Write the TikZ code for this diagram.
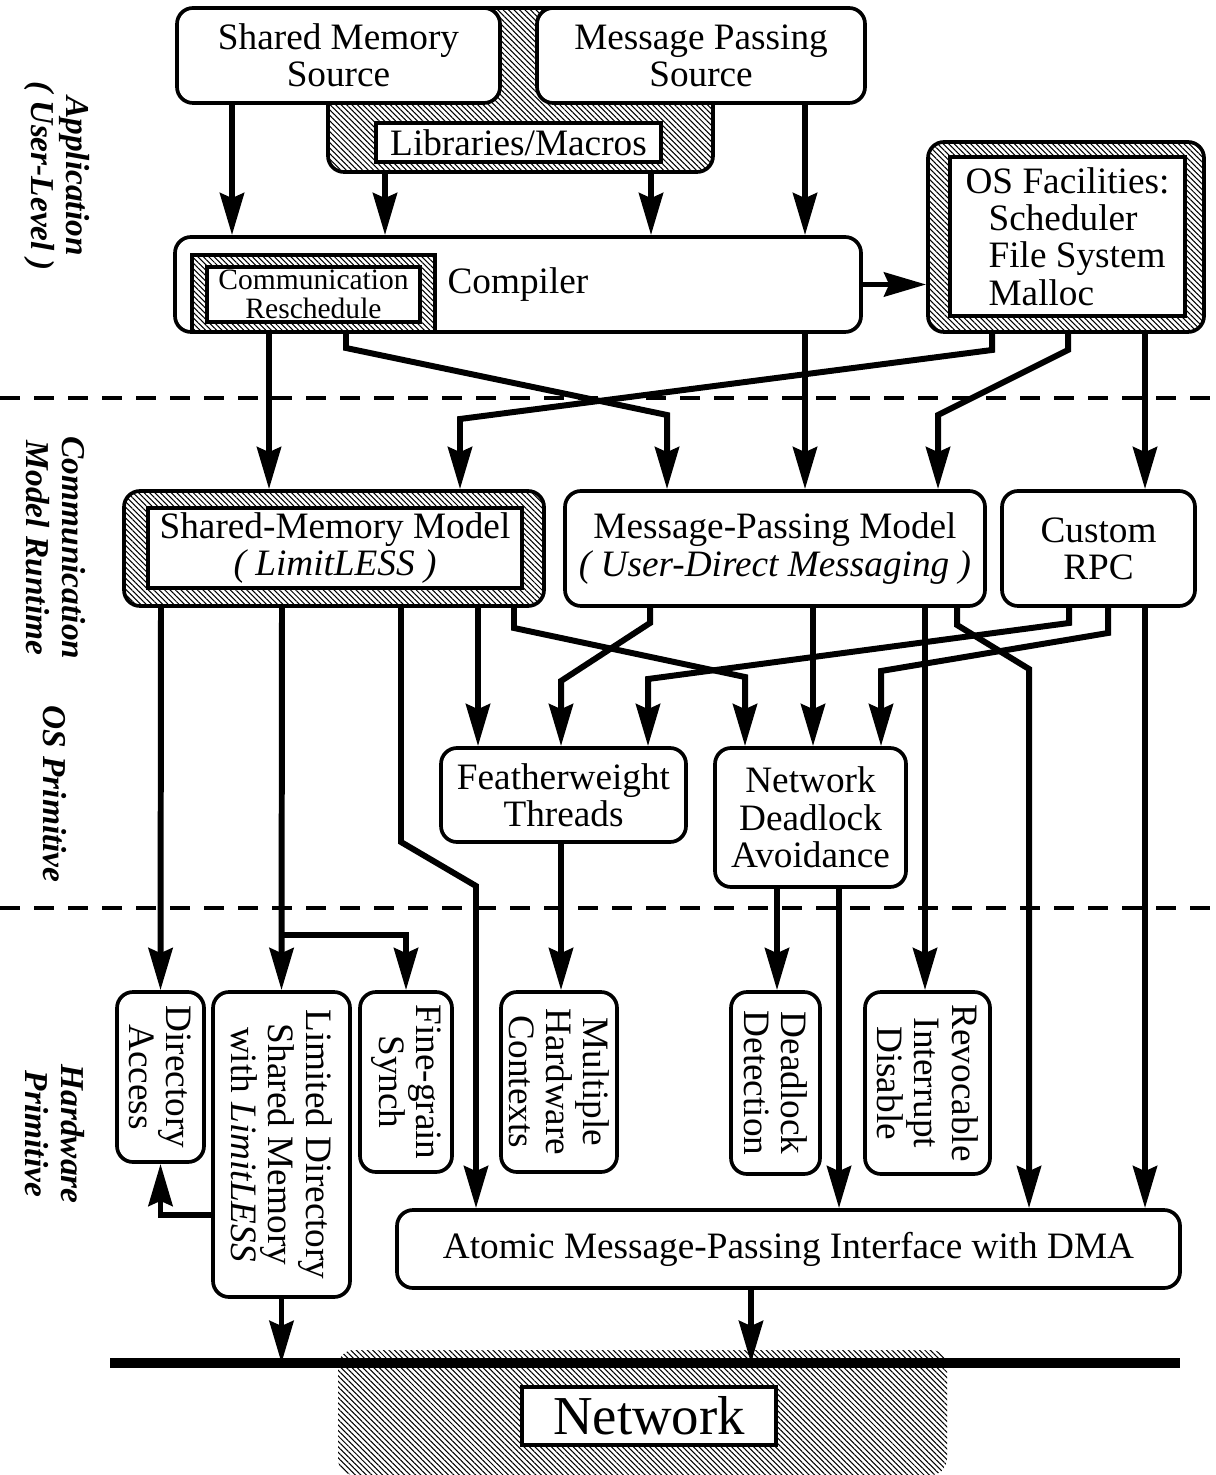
\documentclass[tikz,border=0pt]{standalone}
\usepackage{fontspec}
\setmainfont{Liberation Serif}
\usepackage{tikz}
\usetikzlibrary{arrows.meta,patterns.meta}
\tikzset{
  box/.style={draw, line width=1.05pt, fill=white, rounded corners=1.6mm, inner sep=0pt, align=center, font=\fontsize{10.6}{10.6}\selectfont},
  vbox/.style={box, rotate=-90},
  inbox/.style={box, sharp corners},
  hatch/.style={draw, line width=1.05pt, rounded corners=1.6mm, inner sep=0pt, pattern={Lines[angle=-45,distance=1.1pt,line width=0.3pt]}},
  arr/.style={line width=1.7pt, -{Stealth[length=4.2mm,width=2.4mm,inset=0.5mm]}},
  layer/.style={line width=1pt, dash pattern=on 2mm off 1.4mm},
  lvl/.style={rotate=-90, align=center, font=\fontsize{9.5}{10.2}\selectfont\bfseries\itshape}
}

\begin{document}
\begin{tikzpicture}[x=0.1mm,y=-0.1mm]
  \useasboundingbox (0,0) rectangle (1215,1475);
  \draw[layer] (0,398) -- (1215,398);
  \draw[layer] (0,908) -- (1215,908);

  \node[lvl] (app) at (57,176) {Application\\( User-Level )};
  \node[lvl] (cmr) at (56,548) {Communication\\Model Runtime};
  \node[lvl] (osp) at (55,794) {OS Primitive};
  \node[lvl] (hwp) at (55,1134) {Hardware\\Primitive};

  \node[hatch, minimum width=38.5mm, minimum height=16.4mm] (libs) at (520.5,90) {};
  \node[box, minimum width=32.3mm, minimum height=9.5mm] (sms) at (338.5,55.5) {Shared Memory\\Source};
  \node[box, minimum width=32.8mm, minimum height=9.5mm] (mps) at (701,55.5) {Message Passing\\Source};
  \node[inbox, minimum width=28.5mm, minimum height=3.9mm] (lib) at (518.5,142.5) {Libraries/Macros};
  \node[box, minimum width=68.6mm, minimum height=9.5mm] (cmp) at (518,284.5) {Compiler};
  \node[hatch, sharp corners, minimum width=24.3mm, minimum height=7.7mm] (crs) at (313.5,293.5) {};
  \node[inbox, minimum width=21.3mm, minimum height=5.5mm, font=\fontsize{8.4}{8.2}\selectfont] (crsin) at (313.5,294.5) {Communication\\Reschedule};
  \node[hatch, minimum width=27.6mm, minimum height=19mm] (osf) at (1066,237) {};
  \node[inbox, minimum width=23.5mm, minimum height=15.9mm, align=left] (osfin) at (1067.5,236.5) {OS Facilities:\\\hspace*{2.3mm}Scheduler\\\hspace*{2.3mm}File System\\\hspace*{2.3mm}Malloc};

  \node[hatch, minimum width=42mm, minimum height=11.5mm] (smm) at (334,548.5) {};
  \node[inbox, minimum width=37.4mm, minimum height=8mm] (smmin) at (335,548) {Shared-Memory Model\\\textit{( LimitLESS )}};
  \node[box, minimum width=42mm, minimum height=11.5mm] (mpm) at (775,548.5) {Message-Passing Model\\\textit{( User-Direct Messaging )}};
  \node[box, minimum width=19.3mm, minimum height=11.5mm] (rpc) at (1098.5,548.5) {Custom\\RPC};
  \node[box, minimum width=24.5mm, minimum height=9.4mm] (ft) at (563.5,795) {Featherweight\\Threads};
  \node[box, minimum width=19.1mm, minimum height=13.9mm] (nda) at (810.5,817.5) {Network\\Deadlock\\Avoidance};

  \node[vbox, minimum width=17mm, minimum height=8.7mm] (dir) at (160.5,1077) {Directory\\Access};
  \node[vbox, minimum width=30.5mm, minimum height=13.7mm] (ldsm) at (281.5,1144.5) {Limited Directory\\Shared Memory\\with \textit{LimitLESS}};
  \node[vbox, minimum width=18mm, minimum height=9.2mm] (fgs) at (406,1082) {Fine-grain\\Synch};
  \node[vbox, minimum width=18mm, minimum height=11.6mm] (mhc) at (559,1082) {Multiple\\Hardware\\Contexts};
  \node[vbox, minimum width=18.2mm, minimum height=8.9mm] (ddt) at (775.5,1083) {Deadlock\\Detection};
  \node[vbox, minimum width=18.2mm, minimum height=12.5mm] (rid) at (927.5,1083) {Revocable\\Interrupt\\Disable};
  \node[box, minimum width=78.3mm, minimum height=7.8mm] (ampi) at (788.5,1249) {Atomic Message-Passing Interface with DMA};

  \node[hatch, draw=none, minimum width=60.9mm, minimum height=12.5mm] (netbg) at (642.5,1412.5) {};
  \node[inbox, minimum width=25.4mm, minimum height=5.8mm, font=\fontsize{15.6}{15.6}\selectfont] (net) at (649,1416) {Network};
  \coordinate (nl) at (110,1363);
  \coordinate (nr) at (1180,1363);
  \draw[line width=2.8pt] (nl) -- (nr);

  \draw[arr] (sms.south -| 232,0) -- (cmp.north -| 232,0);
  \draw[arr] (libs.south -| 385,0) -- (cmp.north -| 385,0);
  \draw[arr] (libs.south -| 651,0) -- (cmp.north -| 651,0);
  \draw[arr] (mps.south -| 805,0) -- (cmp.north -| 805,0);
  \draw[arr] (cmp.east) -- (osf.west |- cmp.east);
  \draw[arr] (cmp.south -| 269,0) -- (smm.north -| 269,0);
  \draw[arr] (cmp.south -| 346,0) -- (346,348) -- (667,415) -- (mpm.north -| 667,0);
  \draw[arr] (osf.south -| 992,0) -- (992,350) -- (460,419) -- (smm.north -| 460,0);
  \draw[arr] (cmp.south -| 805,0) -- (mpm.north -| 805,0);
  \draw[arr] (osf.south -| 1068,0) -- (1068,350) -- (938,415) -- (mpm.north -| 938,0);
  \draw[arr] (osf.south -| 1145,0) -- (rpc.north -| 1145,0);

  \draw[arr] (smm.south -| 161,0) -- (dir.west);
  \draw[arr] (smm.south -| 282,0) -- (ldsm.west);
  \coordinate (brk) at (282,935);
  \draw[arr] (brk) -| (fgs.west);
  \draw[arr] (smm.south -| 401,0) -- (401,842) -- (476,886) -- (ampi.north -| 476,0);
  \draw[arr] (smm.south -| 478,0) -- (ft.north -| 478,0);
  \draw[arr] (smm.south -| 514,0) -- (514,628) -- (745,677) -- (nda.north -| 745,0);
  \draw[arr] (mpm.south -| 650,0) -- (650,623) -- (561,681) -- (ft.north -| 561,0);
  \draw[arr] (mpm.south -| 813,0) -- (nda.north -| 813,0);
  \draw[arr] (mpm.south -| 925,0) -- (rid.west -| 925,0);
  \draw[arr] (mpm.south -| 957,0) -- (957,625) -- (1029,669) -- (ampi.north -| 1029,0);
  \draw[arr] (rpc.south -| 1069,0) -- (1069,623) -- (648,679) -- (ft.north -| 648,0);
  \draw[arr] (rpc.south -| 1108,0) -- (1108,633) -- (881,671) -- (nda.north -| 881,0);
  \draw[arr] (rpc.south -| 1145,0) -- (ampi.north -| 1145,0);
  \draw[arr] (ft.south -| 561,0) -- (mhc.west -| 561,0);
  \draw[arr] (nda.south -| 777,0) -- (ddt.west -| 777,0);
  \draw[arr] (nda.south -| 839,0) -- (ampi.north -| 839,0);
  \draw[arr] (ldsm.south |- 0,1215) -| (dir.east);
  \draw[arr] (ldsm.east) -- (ldsm.east |- nl);
  \draw[arr] (ampi.south -| 751,0) -- (nl -| 751,0);
\end{tikzpicture}
\end{document}
